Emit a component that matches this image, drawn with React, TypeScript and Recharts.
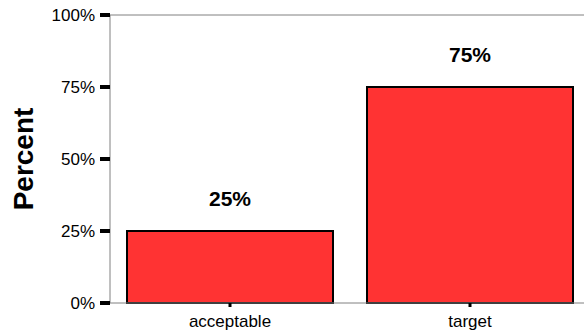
import React from 'react';
import {
  BarChart, Bar, XAxis, YAxis, LabelList, ReferenceLine
} from 'recharts';

// values
const categories = ['acceptable', 'target'];
const percentValues = [25, 75];
const yTicks = [0, 25, 50, 75, 100];

const chartData = categories.map((name, i) => ({ name, value: percentValues[i] }));

const font = '"Liberation Sans", Arial, sans-serif';

const PercentLabel = () => (
  <text
    x={33}
    y={159}
    transform="rotate(-90 33 159)"
    textAnchor="middle"
    fontFamily={font}
    fontSize={28}
    fontWeight="bold"
    fill="#000"
  >
    Percent
  </text>
);

export default function App() {
  return (
    <div style={{ position: 'absolute', left: 0, top: 0, width: 584, height: 335, overflow: 'hidden', background: '#fff' }}>
      <BarChart
        width={600}
        height={335}
        data={chartData}
        margin={{ top: 15, right: 10, bottom: 2, left: 0 }}
        barCategoryGap={17}
      >
        <ReferenceLine y={100} stroke="#808080" strokeWidth={1} />
        <XAxis
          dataKey="name"
          height={30}
          axisLine={{ stroke: '#808080', strokeWidth: 1 }}
          tickLine={{ stroke: '#000', strokeWidth: 3 }}
          tickSize={4}
          tickMargin={8}
          tick={{ fontSize: 17, fill: '#000', fontFamily: font }}
        />
        <YAxis
          width={110}
          domain={[0, 100]}
          ticks={yTicks}
          interval={0}
          tickFormatter={(v: number) => `${v}%`}
          axisLine={{ stroke: '#808080', strokeWidth: 1 }}
          tickLine={{ stroke: '#000', strokeWidth: 4 }}
          tickSize={10}
          tickMargin={5}
          tick={{ fontSize: 17, fill: '#000', fontFamily: font }}
          label={{ content: () => <PercentLabel /> }}
        />
        <Bar
          dataKey="value"
          fill="#ff3333"
          stroke="#000"
          strokeWidth={2}
          isAnimationActive={false}
        >
          <LabelList
            dataKey="value"
            position="top"
            offset={25}
            formatter={(v: any) => `${v}%`}
            style={{ fontSize: 21, fontWeight: 'bold', fill: '#000', fontFamily: font }}
          />
        </Bar>
      </BarChart>
    </div>
  );
}
